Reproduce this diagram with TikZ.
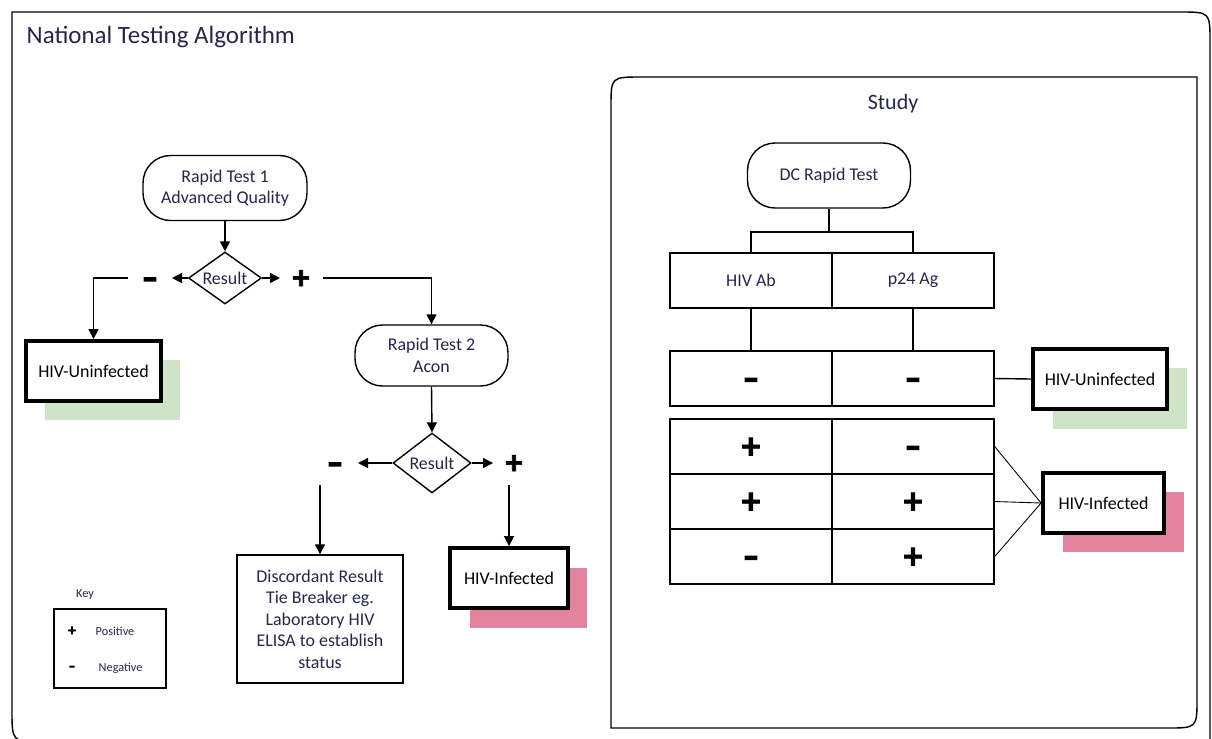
\documentclass[tikz,border=0pt]{standalone}
\usepackage{fontspec}
\setmainfont{Carlito}
\newfontface\signfont[FakeBold=2]{Carlito Bold}
\newfontface\minusfont[FakeBold=7]{Carlito Bold}
\usepackage{tikz}
\usetikzlibrary{arrows.meta, positioning, shapes.geometric}
\definecolor{labeltext}{HTML}{26264A}
\definecolor{uninfshade}{HTML}{CFE4C6}
\definecolor{infshade}{HTML}{E3849F}

\begin{document}
\begin{tikzpicture}[
  x=0.02cm, y=-0.02cm,
  font=\fontsize{10.2}{12.2}\selectfont,
  line width=0.8pt,
  arr/.style={-{Triangle[length=2mm,width=2mm]}},
  terminal/.style={
    draw, rounded corners=0.55cm, align=center, text=labeltext,
    inner sep=0pt
  },
  decision/.style={
    draw, diamond, shape aspect=1.4, inner sep=0pt, text=labeltext
  },
  outcome/.style={
    draw, fill=white, line width=2.2pt, minimum height=1.2cm, inner sep=0pt
  },
  cell/.style={
    draw, minimum width=3.24cm, minimum height=1.1cm, inner sep=0pt,
    text=labeltext
  },
  plus/.style={font=\signfont\fontsize{21}{21}\selectfont, text=black,
    text height=13.4pt, text depth=0pt},
  minus/.style={font=\minusfont\fontsize{17}{17}\selectfont, text=black,
    text height=11.2pt, text depth=0pt},
  keysign/.style={inner sep=0pt},
  keytext/.style={font=\fontsize{7}{8}\selectfont, text=labeltext, inner sep=0pt}
]
  \useasboundingbox (0,0) rectangle (1212,738);
  \clip (0,0) rectangle (1212,738);

  % outer frame
  \draw (12,400) -- (12,12) -- (1180,12) .. controls (1210,12) .. (1210,42)
    -- (1210,760);
  \draw (12,400) -- (12,710) .. controls (12,742) .. (44,742) -- (1220,742);
  \node[anchor=base west, font=\fontsize{14.2}{16}\selectfont, text=labeltext,
        inner sep=0pt] (title) at (26,43) {National Testing Algorithm};

  % national algorithm
  \node[terminal, minimum width=3.28cm, minimum height=1.3cm] (rt1)
    at (225,188) {Rapid Test 1\\Advanced Quality};
  \node[decision, minimum width=1.46cm, minimum height=1.04cm] (res1)
    at (225,278) {Result};
  \draw[arr] (rt1.south) -- (res1.north);

  \coordinate (l1tip) at (172,278);
  \coordinate (l1end) at (128,278);
  \node[minus, inner sep=0pt] (neg1) at (150,278) {–};
  \draw[arr] (res1.west) -- (l1tip);

  \coordinate (r1tip) at (280,278);
  \coordinate (r1end) at (323,278);
  \node[plus, inner sep=0pt, font=\signfont\fontsize{19}{19}\selectfont,
        text height=12.1pt] (pos1) at (301,278) {+};
  \draw[arr] (res1.east) -- (r1tip);

  \fill[uninfshade] (45,360) rectangle (180,420);
  \node[outcome, minimum width=2.7cm] (uninf1) at (93.5,371) {HIV-Uninfected};
  \draw[arr] (l1end) -| (uninf1.north);

  \node[terminal, minimum width=3.06cm, minimum height=1.22cm] (rt2)
    at (431.5,355.5) {Rapid Test 2\\Acon};
  \draw[arr] (r1end) -| (rt2.north);

  \node[decision, minimum width=1.56cm, minimum height=1.2cm] (res2)
    at (432,463) {Result};
  \draw[arr] (rt2.south) -- (res2.north);

  \coordinate (l2tip) at (358,463);
  \node[minus, inner sep=0pt] (neg2) at (335,463) {–};
  \draw[arr] (res2.west) -- (l2tip);
  \coordinate (r2tip) at (493,463);
  \node[plus, inner sep=0pt, font=\signfont\fontsize{19}{19}\selectfont,
        text height=12.1pt] (pos2) at (514,463) {+};
  \draw[arr] (res2.east) -- (r2tip);

  \node[draw, minimum width=3.32cm, minimum height=2.56cm, align=center,
        text=labeltext, inner sep=0pt] (disc) at (320,619)
    {Discordant Result\\Tie Breaker eg.\\Laboratory HIV\\ELISA to establish\\status};
  \coordinate (l2start) at (320,485);
  \draw[arr] (l2start) -- (disc.north);

  \fill[infshade] (470,568) rectangle (587,628);
  \node[outcome, minimum width=2.36cm] (inf1) at (509,578) {HIV-Infected};
  \coordinate (r2start) at (509,485);
  \draw[arr] (r2start) -- (inf1.north);

  % key
  \node[keytext] (keyhead) at (85,595) {Key};
  \node[draw, minimum width=2.24cm, minimum height=1.58cm] (keybox)
    at (110,648.5) {};
  \node[keysign, font=\signfont\fontsize{9}{9}\selectfont] (keypos)
    at (72,631) {+};
  \node[keytext, anchor=west] (keypostext) at (95,631) {Positive};
  \node[keysign, font=\minusfont\fontsize{7}{7}\selectfont] (keyneg)
    at (72,668) {–};
  \node[keytext, anchor=west] (keynegtext) at (98,668) {Negative};

  % study frame
  \draw (611,728) -- (611,107) .. controls (611,77) .. (641,77) -- (1197,77)
    -- (1197,698) .. controls (1197,728) .. (1167,728) -- cycle;
  \node[anchor=base, font=\fontsize{12.5}{15}\selectfont, text=labeltext,
        inner sep=0pt] (study) at (893,109) {Study};

  \node[terminal, minimum width=3.26cm, minimum height=1.3cm] (dc)
    at (829,175.5) {DC Rapid Test};
  \node[cell] (hivab) at (751,280.5) {HIV Ab};
  \node[cell] (p24ag) at (913,280.5) {p24 Ag};
  \coordinate (split) at (829,232);
  \draw (dc.south) -- (split);
  \draw (hivab.north) |- (split) -| (p24ag.north);

  \node[cell, minus] (negab) at (751,378.5) {–};
  \node[cell, minus] (negag) at (913,378.5) {–};
  \draw (hivab.south) -- (negab.north);
  \draw (p24ag.south) -- (negag.north);

  \fill[uninfshade] (1053,368) rectangle (1187,429);
  \node[outcome, minimum width=2.68cm] (uninf2) at (1100,379) {HIV-Uninfected};
  \draw (negag.east) -- (uninf2.west);

  \node[cell, plus] (rowa1) at (751,446.5) {+};
  \node[cell, minus] (rowa2) at (913,446.5) {–};
  \node[cell, plus] (rowb1) at (751,501.5) {+};
  \node[cell, plus] (rowb2) at (913,501.5) {+};
  \node[cell, minus] (rowc1) at (751,556.5) {–};
  \node[cell, plus] (rowc2) at (913,556.5) {+};

  \fill[infshade] (1063,492) rectangle (1184,552);
  \node[outcome, minimum width=2.42cm] (inf2) at (1103.5,503) {HIV-Infected};
  \draw[line width=0.5pt] (rowa2.east) -- (inf2.west);
  \draw[line width=0.5pt] (rowb2.east) -- (inf2.west);
  \draw[line width=0.5pt] (rowc2.east) -- (inf2.west);
\end{tikzpicture}
\end{document}
